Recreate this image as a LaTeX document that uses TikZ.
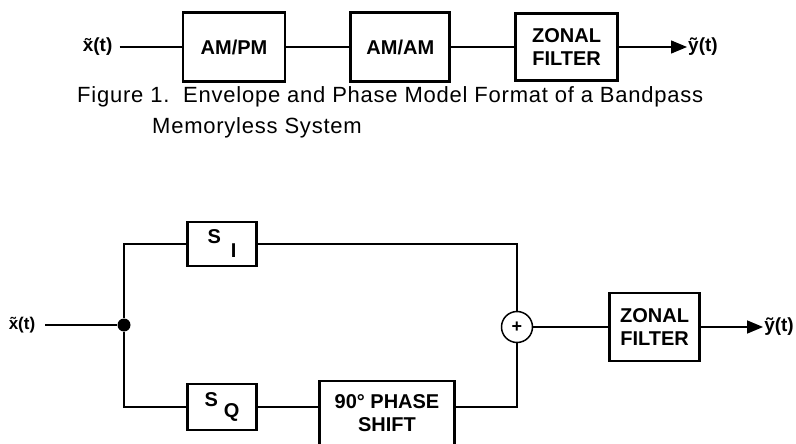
\documentclass[tikz,border=0pt]{standalone}
\usepackage{fontspec}
\setmainfont{Liberation Sans}
\usepackage{tikz}
\usetikzlibrary{arrows.meta, positioning}
\tikzset{
  blockbox/.style={rectangle, draw=black, line width=2.8pt, align=center, inner sep=0pt, font=\fontsize{20}{23}\selectfont\bfseries},
  sig/.style={inner sep=1pt, font=\fontsize{19}{21}\selectfont\bfseries},
  wire/.style={line width=1.5pt},
  arrow/.style={-{Triangle[length=16pt, width=13pt]}, line width=1.5pt},
  sumnode/.style={circle, draw=black, line width=1.5pt, minimum size=31pt, inner sep=0pt, font=\fontsize{18}{18}\selectfont\bfseries},
  junction/.style={circle, fill=black, minimum size=13pt, inner sep=0pt},
  caption/.style={anchor=west, inner sep=0pt, font=\fontsize{22}{25}\selectfont\addfontfeature{LetterSpace=3.5}}
}

\begin{document}
\begin{tikzpicture}[x=1pt, y=-1pt, node distance=63pt]
  \useasboundingbox (0,0) rectangle (796,444);
  \clip (0,0) rectangle (796,444);

  \node[blockbox, minimum width=102pt, minimum height=69pt] (ampm) at (234,47) {AM/PM};
  \node[blockbox, minimum width=99pt, minimum height=69pt, right=of ampm] (amam) {AM/AM};
  \node[blockbox, minimum width=102pt, minimum height=67pt, right=of amam] (zf1) {ZONAL\\FILTER};
  \node[sig, left=68pt of ampm] (x1) {\~{x}(t)};
  \node[sig, right=68pt of zf1] (y1) {\~{y}(t)};
  \draw[wire, shorten <=6pt] (x1) -- (ampm);
  \draw[wire] (ampm) -- (amam);
  \draw[wire] (amam) -- (zf1);
  \draw[arrow] (zf1) -- (y1);

  \node[caption] (cap1) at (77,97) {Figure 1.\ \ Envelope and Phase Model Format of a Bandpass};
  \node[caption] (cap2) at (152,128) {Memoryless System};

  \node[junction] (split) at (124,325) {};
  \node[sig, font=\fontsize{17}{19}\selectfont\bfseries] (x2) at (22,325) {\~{x}(t)};
  \node[blockbox, minimum width=69pt, minimum height=44pt] (si) at (222,244) {S\hspace{10pt}\raisebox{-14pt}{I}};
  \node[blockbox, minimum width=69pt, minimum height=46pt] (sq) at (222,407) {S\hspace{6pt}\raisebox{-11pt}{Q}};
  \node[blockbox, minimum width=135pt, minimum height=64pt] (phase) at (387,413) {90° PHASE\\SHIFT};
  \node[sumnode] (sum) at (517,327) {+};
  \node[blockbox, minimum width=90pt, minimum height=68pt, right=75pt of sum] (zf2) {ZONAL\\FILTER};
  \node[sig, right=62pt of zf2] (y2) {\~{y}(t)};
  \draw[wire, shorten <=9pt] (x2) -- (split);
  \draw[wire] (si.west) -| (split) |- (sq.west);
  \draw[wire] (si) -| (sum);
  \draw[wire] (sq.east) -- (sq.east -| phase.west);
  \draw[wire] (sq.east -| phase.east) -| (sum);
  \draw[wire] (sum) -- (zf2);
  \draw[arrow] (zf2) -- (y2);
\end{tikzpicture}
\end{document}
